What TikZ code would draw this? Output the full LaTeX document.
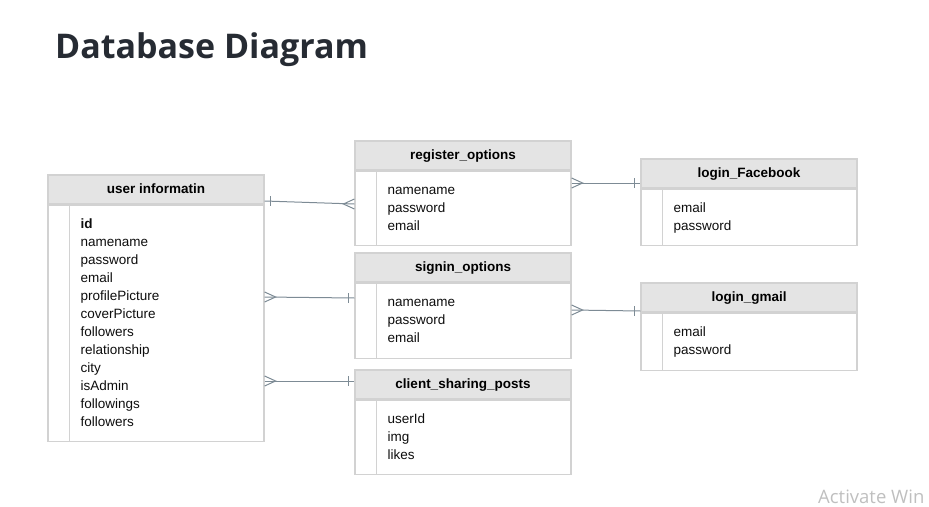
\documentclass[tikz,border=0pt]{standalone}
\usepackage{fontspec}
\setmainfont{Liberation Sans}
\newfontfamily\titlefont{Open Sans}
\usetikzlibrary{calc}
\usetikzlibrary{positioning}
\definecolor{hdrgray}{HTML}{E4E4E4}
\definecolor{boxgray}{HTML}{D2D2D2}
\definecolor{relgray}{HTML}{7D8B95}
\definecolor{inkdark}{HTML}{262B33}

\begin{document}
\begin{tikzpicture}[x=1pt,y=-1pt,
  tabhead/.style={draw=boxgray,fill=hdrgray,line width=1.2pt,minimum width=216pt,minimum height=29pt,inner sep=0pt,text height=10pt,text depth=2pt,font=\fontsize{13.5}{16}\selectfont\bfseries,text=black},
  tabbody/.style={draw=boxgray,line width=1.2pt,minimum width=216pt,inner sep=0pt},
  field/.style={anchor=base west,inner sep=0pt,font=\fontsize{13.5}{16}\selectfont,text=black!95},
  rel/.style={draw=relgray,line width=1pt}]
\newcommand{\entity}[5]{
  \node[tabhead] (#1) at (#2,#3) {#4};
  \node[tabbody,minimum height=#5pt,below=0pt of #1] (#1b) {};
  \draw[draw=boxgray,line width=1.2pt] ([xshift=22pt]#1b.north west) -- ([xshift=22pt]#1b.south west);
}
\newcommand{\fields}[2]{
  \foreach \f [count=\i] in {#2}
    \node[field] at ([xshift=33pt,yshift={-24pt-18pt*(\i-1)}]#1b.north west) {\f};
}
\newcommand{\crowfoot}[2]{\draw[rel] ($(#1)+(0,-5)$) -- ($(#1)+(#2*11,0)$) -- ($(#1)+(0,5)$);}
\newcommand{\barmark}[2]{\draw[rel] ($(#1)+(#2*6,-5)$) -- ($(#1)+(#2*6,5)$);}
\useasboundingbox (0,0) rectangle (929,506);

\node[font=\titlefont\fontsize{34}{40}\selectfont\bfseries,text=inkdark,anchor=base west,inner sep=0pt] (title) at (55,58) {Database Diagram};

% ---------- tables ----------
\entity{user}{156}{189.5}{user informatin}{236}
\fields{user}{\textbf{id},namename,password,email,profilePicture,coverPicture,followers,relationship,city,isAdmin,followings,followers}

\entity{reg}{463}{155.5}{register\_options}{74}
\fields{reg}{namename,password,email}

\entity{fb}{749}{173.5}{login\_Facebook}{56}
\fields{fb}{email,password}

\entity{sign}{463}{267.5}{signin\_options}{75}
\fields{sign}{namename,password,email}

\entity{gmail}{749}{297.5}{login\_gmail}{57}
\fields{gmail}{email,password}

\entity{posts}{463}{384.5}{client\_sharing\_posts}{74}
\fields{posts}{userId,img,likes}

% ---------- relations ----------
\coordinate (c1a) at (userb.east |- 0,201);
\coordinate (c1b) at (regb.west |- 0,204);
\draw[rel] (c1a) -- (c1b); \barmark{c1a}{1} \crowfoot{c1b}{-1}

\coordinate (c2a) at (regb.east |- 0,183);
\coordinate (c2b) at (fbb.west |- 0,183);
\draw[rel] (c2a) -- (c2b); \crowfoot{c2a}{1} \barmark{c2b}{-1}

\coordinate (c3a) at (userb.east |- 0,297);
\coordinate (c3b) at (signb.west |- 0,298);
\draw[rel] (c3a) -- (c3b); \crowfoot{c3a}{1} \barmark{c3b}{-1}

\coordinate (c4a) at (signb.east |- 0,310);
\coordinate (c4b) at (gmailb.west |- 0,311);
\draw[rel] (c4a) -- (c4b); \crowfoot{c4a}{1} \barmark{c4b}{-1}

\coordinate (c5a) at (userb.east |- 0,381);
\coordinate (c5b) at (postsb.west |- 0,381);
\draw[rel] (c5a) -- (c5b); \crowfoot{c5a}{1} \barmark{c5b}{-1}

\node[anchor=base west,inner sep=0pt,text=black!25,font=\titlefont\fontsize{18.5}{22}\selectfont] (wm) at (818,503) {Activate Win};
\end{tikzpicture}
\end{document}
